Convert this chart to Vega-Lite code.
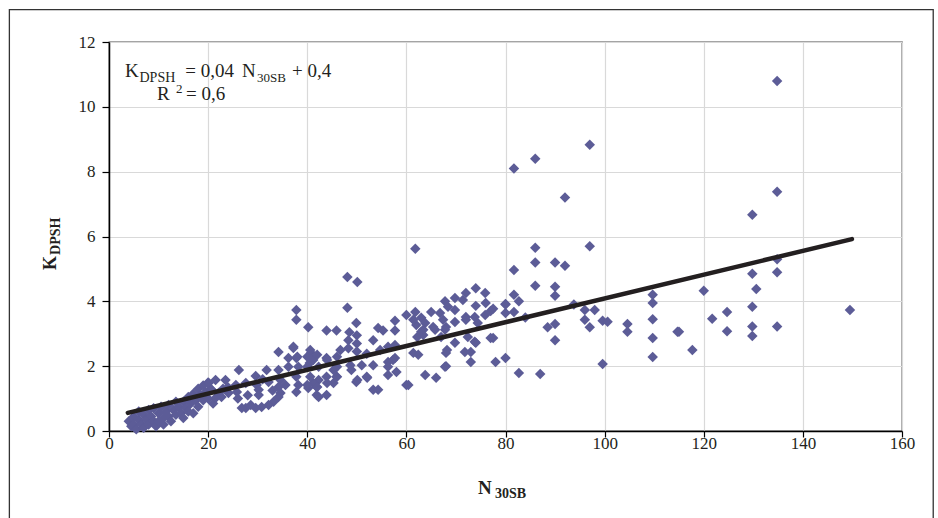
{
  "$schema": "https://vega.github.io/schema/vega-lite/v6.json",
  "width": 793,
  "height": 389,
  "autosize": {"type": "none"},
  "padding": {"left": 109, "top": 42, "right": 36, "bottom": 87},
  "background": "white",
  "config": {
    "view": {"stroke": "#4a4a4a", "strokeWidth": 1.3},
    "font": "Liberation Serif"
  },
  "datasets": {
    "pts": [
      {"N":4,"K":0.3},{"N":4.5,"K":0.15},{"N":5,"K":0.45},{"N":5,"K":0.2},{"N":5.5,"K":0.05},{"N":6,"K":0.35},{"N":6,"K":0.6},{"N":6.5,"K":0.2},{"N":7,"K":0.5},{"N":7,"K":0.1},{"N":7.5,"K":0.35},{"N":8,"K":0.65},{"N":8,"K":0.2},{"N":8.5,"K":0.45},{"N":9,"K":0.3},{"N":9,"K":0.7},{"N":9.5,"K":0.15},{"N":10,"K":0.55},{"N":10,"K":0.3},{"N":10.5,"K":0.75},{"N":11,"K":0.4},{"N":11,"K":0.2},{"N":11.5,"K":0.6},{"N":12,"K":0.8},{"N":12,"K":0.45},{"N":12.5,"K":0.3},{"N":13,"K":0.65},{"N":13.5,"K":0.9},{"N":13.5,"K":0.5},{"N":14,"K":0.75},{"N":14.5,"K":0.55},{"N":15,"K":0.9},{"N":15,"K":0.4},{"N":15.5,"K":0.7},{"N":16,"K":1.05},{"N":16,"K":0.6},{"N":16.5,"K":0.85},{"N":17,"K":1.15},{"N":17,"K":0.55},{"N":17.5,"K":0.95},{"N":18,"K":1.3},{"N":18,"K":0.75},{"N":18.5,"K":1.1},{"N":19,"K":1.4},{"N":19,"K":0.95},{"N":19.5,"K":1.2},{"N":20,"K":1.5},{"N":20,"K":1.0},{"N":20.5,"K":1.3},{"N":21,"K":0.85},
      {"N":21.5,"K":1.57},{"N":23.5,"K":1.57},{"N":25.6,"K":1.42},{"N":27.6,"K":1.48},{"N":29.8,"K":1.42},{"N":32.2,"K":1.51},{"N":34.6,"K":1.57},{"N":35.6,"K":1.42},{"N":20.1,"K":1.48},{"N":20.7,"K":1.27},{"N":22.1,"K":1.17},{"N":24.1,"K":1.17},{"N":25.8,"K":1.2},{"N":30.2,"K":1.27},{"N":30.2,"K":1.11},{"N":34.2,"K":1.36},{"N":34.6,"K":1.17},{"N":21.5,"K":1.02},{"N":22.7,"K":1.05},{"N":34.2,"K":1.05},{"N":33.2,"K":0.9},{"N":32.2,"K":0.8},{"N":30.8,"K":0.74},{"N":29.6,"K":0.71},{"N":28.6,"K":0.8},{"N":27.6,"K":0.71},{"N":26.8,"K":0.71},{"N":26.2,"K":1.88},{"N":29.6,"K":1.7},{"N":31.8,"K":1.88},{"N":34.2,"K":1.88},{"N":34.2,"K":2.44},{"N":37.2,"K":2.56},{"N":36.2,"K":2.25},{"N":37.8,"K":2.25},{"N":36.2,"K":1.98},{"N":38.2,"K":1.98},{"N":40.8,"K":2.41},{"N":41.2,"K":2.19},{"N":37.8,"K":1.67},{"N":38.2,"K":1.42},{"N":40.2,"K":1.33},{"N":37.8,"K":1.2},{"N":41.9,"K":1.36},{"N":41.9,"K":1.11},{"N":37.8,"K":3.73},{"N":37.8,"K":3.43},{"N":40.2,"K":3.2},{"N":24,"K":1.35},{"N":26,"K":1.0},{"N":28,"K":1.1},{"N":23,"K":1.3},{"N":31,"K":1.6},{"N":33,"K":1.25},
      {"N":48.1,"K":4.75},{"N":50.1,"K":4.6},{"N":48.1,"K":3.8},{"N":61.8,"K":5.62},{"N":43.9,"K":3.1},{"N":45.9,"K":3.1},{"N":49.9,"K":3.33},{"N":48.5,"K":3.05},{"N":50,"K":2.95},{"N":48.3,"K":2.8},{"N":50,"K":2.7},{"N":48.3,"K":2.55},{"N":50,"K":2.45},{"N":54.3,"K":3.18},{"N":55.3,"K":3.1},{"N":53.3,"K":2.8},{"N":57.7,"K":3.4},{"N":57.7,"K":3.1},{"N":60,"K":3.58},{"N":54.7,"K":2.5},{"N":56.3,"K":2.6},{"N":57.7,"K":2.65},{"N":52,"K":2.38},{"N":56.3,"K":2.13},{"N":57.7,"K":2.25},{"N":56.3,"K":1.98},{"N":58,"K":1.82},{"N":56.3,"K":1.73},{"N":53.3,"K":2.03},{"N":51,"K":2.03},{"N":48.7,"K":2.03},{"N":48.9,"K":1.88},{"N":52,"K":1.67},{"N":49.9,"K":1.51},{"N":53.3,"K":1.27},{"N":54.3,"K":1.27},{"N":60,"K":1.42},{"N":40.5,"K":2.1},{"N":42,"K":2.35},{"N":43.9,"K":2.25},{"N":42.3,"K":1.98},{"N":45.3,"K":1.88},{"N":45.9,"K":1.67},{"N":43.9,"K":1.67},{"N":45.3,"K":1.48},{"N":42.3,"K":1.57},{"N":41.2,"K":1.48},{"N":42.3,"K":1.05},{"N":43.9,"K":1.11},{"N":37.2,"K":2.6},{"N":38,"K":2.29},{"N":40,"K":2.29},{"N":40.6,"K":2.5},{"N":40,"K":1.98},{"N":40.6,"K":1.67},{"N":40,"K":1.42},{"N":44,"K":1.48},{"N":42,"K":1.36},{"N":44,"K":2.19},{"N":46,"K":1.98},{"N":46,"K":1.67},{"N":46.7,"K":2.5},{"N":46,"K":2.29},{"N":57.3,"K":2.19},{"N":50.1,"K":1.57},{"N":52.1,"K":1.64},
      {"N":74,"K":4.4},{"N":75.9,"K":4.26},{"N":72,"K":4.26},{"N":69.8,"K":4.1},{"N":67.8,"K":4.0},{"N":71.4,"K":4.04},{"N":74,"K":3.86},{"N":76,"K":3.95},{"N":77.5,"K":3.77},{"N":80,"K":3.92},{"N":61.8,"K":3.67},{"N":63,"K":3.49},{"N":65,"K":3.67},{"N":66.8,"K":3.64},{"N":68.4,"K":3.83},{"N":69.8,"K":3.73},{"N":72,"K":3.52},{"N":62,"K":3.27},{"N":63.8,"K":3.33},{"N":65.4,"K":3.21},{"N":67.4,"K":3.43},{"N":68,"K":3.21},{"N":69.8,"K":3.36},{"N":72,"K":3.43},{"N":74.4,"K":3.33},{"N":63,"K":3.06},{"N":65.8,"K":3.12},{"N":67.8,"K":3.12},{"N":67,"K":2.9},{"N":69.8,"K":2.72},{"N":74,"K":2.72},{"N":77.5,"K":2.87},{"N":72.4,"K":2.9},{"N":61.4,"K":2.41},{"N":62.4,"K":2.35},{"N":68,"K":2.41},{"N":73,"K":2.44},{"N":73,"K":2.13},{"N":78,"K":2.13},{"N":80,"K":2.25},{"N":68,"K":2.0},{"N":63.8,"K":1.73},{"N":66,"K":1.64},{"N":60.4,"K":1.42},{"N":62.2,"K":2.9},{"N":63.4,"K":2.96},{"N":61.4,"K":3.43},{"N":63.4,"K":3.12},{"N":73.8,"K":3.52},{"N":75.9,"K":3.58},{"N":68.2,"K":2.5},{"N":71.8,"K":2.44},{"N":73.8,"K":2.75},{"N":67.8,"K":1.98},
      {"N":97,"K":8.83},{"N":86,"K":8.4},{"N":81.7,"K":8.1},{"N":92,"K":7.2},{"N":86,"K":5.65},{"N":97,"K":5.7},{"N":81.7,"K":4.97},{"N":86,"K":5.2},{"N":90,"K":5.2},{"N":92,"K":5.1},{"N":86,"K":4.48},{"N":90,"K":4.45},{"N":90,"K":4.17},{"N":81.7,"K":4.2},{"N":82.7,"K":4.0},{"N":80,"K":3.9},{"N":77,"K":3.7},{"N":80,"K":3.64},{"N":81.7,"K":3.67},{"N":84,"K":3.5},{"N":93.8,"K":3.9},{"N":96,"K":3.73},{"N":98,"K":3.73},{"N":96,"K":3.43},{"N":97,"K":3.2},{"N":88.5,"K":3.2},{"N":90,"K":3.3},{"N":90,"K":2.8},{"N":99.6,"K":3.4},{"N":100.6,"K":3.37},{"N":104.6,"K":3.3},{"N":104.6,"K":3.06},{"N":109.7,"K":4.2},{"N":109.7,"K":3.95},{"N":109.7,"K":3.45},{"N":109.7,"K":2.87},{"N":109.7,"K":2.28},{"N":99.6,"K":2.07},{"N":82.7,"K":1.79},{"N":87,"K":1.76},{"N":114.7,"K":3.06},{"N":77,"K":2.87},
      {"N":134.8,"K":10.8},{"N":134.8,"K":7.38},{"N":129.8,"K":6.67},{"N":134.8,"K":5.3},{"N":129.8,"K":4.85},{"N":134.8,"K":4.9},{"N":130.6,"K":4.38},{"N":120,"K":4.33},{"N":129.8,"K":3.83},{"N":124.7,"K":3.67},{"N":121.7,"K":3.46},{"N":129.8,"K":3.22},{"N":129.8,"K":2.93},{"N":134.8,"K":3.22},{"N":124.7,"K":3.08},{"N":115,"K":3.06},{"N":117.7,"K":2.5},{"N":149.5,"K":3.73}
    ],
    "fit": [{"N": 3.8, "K": 0.56}, {"N": 149.9, "K": 5.92}]
  },
  "layer": [
    {
      "data": {"values": [{}]},
      "mark": {"type": "rect", "fill": null, "stroke": "#333333", "strokeWidth": 1.3, "clip": false},
      "encoding": {
        "x": {"datum": -20.1, "type": "quantitative", "title": null},
        "x2": {"datum": 166.3},
        "y": {"datum": 13.0, "type": "quantitative", "title": null},
        "y2": {"datum": -3.6}
      }
    },
    {
      "data": {"name": "pts"},
      "mark": {"type": "point", "shape": "diamond", "filled": true, "size": 110, "color": "#5c5c97", "opacity": 1},
      "encoding": {
        "x": {
          "field": "N", "type": "quantitative", "title": null,
          "scale": {"domain": [0, 160], "nice": false},
          "axis": {"values": [0,20,40,60,80,100,120,140,160], "grid": true, "gridColor": "#d9d9d9", "gridWidth": 1.2,
                   "domainColor": "#000000", "domainWidth": 1.5, "tickColor": "#000000", "tickSize": 6, "tickWidth": 1.2,
                   "labelFont": "Liberation Serif", "labelFontSize": 17, "labelColor": "#231f20", "labelPadding": -2, "labelFlush": false}
        },
        "y": {
          "field": "K", "type": "quantitative", "title": null,
          "scale": {"domain": [0, 12], "nice": false},
          "axis": {"values": [0,2,4,6,8,10,12], "grid": true, "gridColor": "#d9d9d9", "gridWidth": 1.2,
                   "domainColor": "#000000", "domainWidth": 1.5, "tickColor": "#000000", "tickSize": 7, "tickWidth": 1.2,
                   "labelFont": "Liberation Serif", "labelFontSize": 17, "labelColor": "#231f20", "labelPadding": 7, "labelFlush": false}
        }
      }
    },
    {
      "data": {"name": "fit"},
      "mark": {"type": "line", "color": "#231f20", "strokeWidth": 4.5, "strokeCap": "round"},
      "encoding": {
        "x": {"field": "N", "type": "quantitative", "title": null},
        "y": {"field": "K", "type": "quantitative", "title": null}
      }
    },
    {
      "data": {"values": [{"t": "K"}]},
      "mark": {"type": "text", "align": "left", "baseline": "alphabetic", "fontSize": 19, "color": "#231f20", "font": "Liberation Serif"},
      "encoding": {"x": {"datum": 3.23, "type": "quantitative"}, "y": {"datum": 10.92, "type": "quantitative"}, "text": {"field": "t"}}
    },
    {
      "data": {"values": [{"t": "DPSH"}]},
      "mark": {"type": "text", "align": "left", "baseline": "alphabetic", "fontSize": 14, "color": "#231f20", "font": "Liberation Serif"},
      "encoding": {"x": {"datum": 6.15, "type": "quantitative"}, "y": {"datum": 10.77, "type": "quantitative"}, "text": {"field": "t"}}
    },
    {
      "data": {"values": [{"t": "= 0,04"}]},
      "mark": {"type": "text", "align": "left", "baseline": "alphabetic", "fontSize": 19, "color": "#231f20", "font": "Liberation Serif"},
      "encoding": {"x": {"datum": 15.4, "type": "quantitative"}, "y": {"datum": 10.92, "type": "quantitative"}, "text": {"field": "t"}}
    },
    {
      "data": {"values": [{"t": "N"}]},
      "mark": {"type": "text", "align": "left", "baseline": "alphabetic", "fontSize": 19, "color": "#231f20", "font": "Liberation Serif"},
      "encoding": {"x": {"datum": 26.84, "type": "quantitative"}, "y": {"datum": 10.92, "type": "quantitative"}, "text": {"field": "t"}}
    },
    {
      "data": {"values": [{"t": "30SB"}]},
      "mark": {"type": "text", "align": "left", "baseline": "alphabetic", "fontSize": 13, "color": "#231f20", "font": "Liberation Serif"},
      "encoding": {"x": {"datum": 29.86, "type": "quantitative"}, "y": {"datum": 10.77, "type": "quantitative"}, "text": {"field": "t"}}
    },
    {
      "data": {"values": [{"t": "+ 0,4"}]},
      "mark": {"type": "text", "align": "left", "baseline": "alphabetic", "fontSize": 19, "color": "#231f20", "font": "Liberation Serif"},
      "encoding": {"x": {"datum": 36.93, "type": "quantitative"}, "y": {"datum": 10.92, "type": "quantitative"}, "text": {"field": "t"}}
    },
    {
      "data": {"values": [{"t": "R"}]},
      "mark": {"type": "text", "align": "left", "baseline": "alphabetic", "fontSize": 19, "color": "#231f20", "font": "Liberation Serif"},
      "encoding": {"x": {"datum": 9.69, "type": "quantitative"}, "y": {"datum": 10.21, "type": "quantitative"}, "text": {"field": "t"}}
    },
    {
      "data": {"values": [{"t": "2"}]},
      "mark": {"type": "text", "align": "left", "baseline": "alphabetic", "fontSize": 13, "color": "#231f20", "font": "Liberation Serif"},
      "encoding": {"x": {"datum": 13.5, "type": "quantitative"}, "y": {"datum": 10.43, "type": "quantitative"}, "text": {"field": "t"}}
    },
    {
      "data": {"values": [{"t": "= 0,6"}]},
      "mark": {"type": "text", "align": "left", "baseline": "alphabetic", "fontSize": 19, "color": "#231f20", "font": "Liberation Serif"},
      "encoding": {"x": {"datum": 15.54, "type": "quantitative"}, "y": {"datum": 10.21, "type": "quantitative"}, "text": {"field": "t"}}
    },
    {
      "data": {"values": [{"t": "N"}]},
      "mark": {"type": "text", "align": "left", "baseline": "alphabetic", "fontSize": 19, "fontWeight": "bold", "color": "#231f20", "font": "Liberation Serif", "clip": false},
      "encoding": {"x": {"datum": 74.46, "type": "quantitative"}, "y": {"datum": -1.94, "type": "quantitative"}, "text": {"field": "t"}}
    },
    {
      "data": {"values": [{"t": "30SB"}]},
      "mark": {"type": "text", "align": "left", "baseline": "alphabetic", "fontSize": 14, "fontWeight": "bold", "color": "#231f20", "font": "Liberation Serif", "clip": false},
      "encoding": {"x": {"datum": 77.89, "type": "quantitative"}, "y": {"datum": -2.07, "type": "quantitative"}, "text": {"field": "t"}}
    },
    {
      "data": {"values": [{"t": "K"}]},
      "mark": {"type": "text", "align": "left", "baseline": "alphabetic", "angle": 270, "fontSize": 18, "fontWeight": "bold", "color": "#231f20", "font": "Liberation Serif", "clip": false},
      "encoding": {"x": {"datum": -10.69, "type": "quantitative"}, "y": {"datum": 4.97, "type": "quantitative"}, "text": {"field": "t"}}
    },
    {
      "data": {"values": [{"t": "DPSH"}]},
      "mark": {"type": "text", "align": "left", "baseline": "alphabetic", "angle": 270, "fontSize": 14, "fontWeight": "bold", "color": "#231f20", "font": "Liberation Serif", "clip": false},
      "encoding": {"x": {"datum": -9.89, "type": "quantitative"}, "y": {"datum": 5.43, "type": "quantitative"}, "text": {"field": "t"}}
    }
  ]
}
